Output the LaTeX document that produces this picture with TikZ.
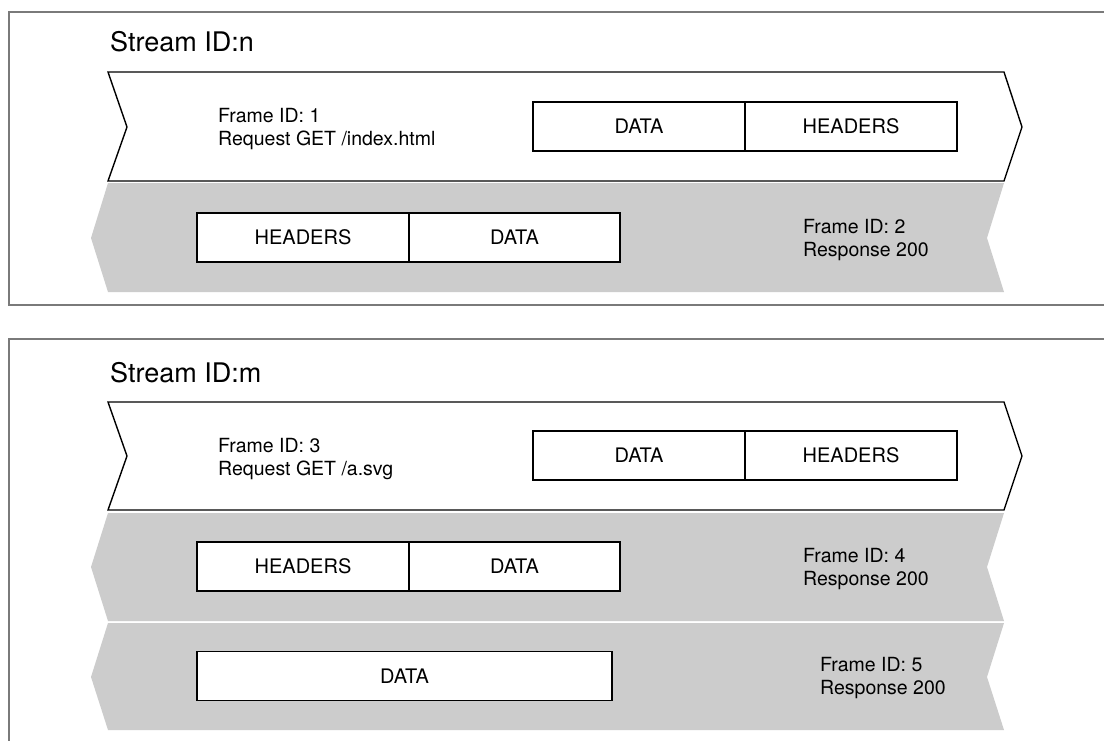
\documentclass[tikz,border=0pt]{standalone}
\usepackage{fontspec}
\setmainfont{TeX Gyre Heros}
\definecolor{arrowgray}{HTML}{CCCCCC}
\definecolor{framegray}{HTML}{7A7A7A}
\tikzset{
  outerbox/.style={draw=framegray, line width=1.4pt, fill=white},
  fwdarrow/.style={draw=black, line width=1.4pt, fill=white, line join=miter},
  backarrow/.style={fill=arrowgray, draw=none},
  framebox/.style={draw=black, line width=1.3pt, fill=white, inner sep=0pt,
    minimum height=49pt, font=\fontsize{20}{22}\selectfont},
  lbl/.style={inner sep=0pt, anchor=base west, align=left,
    font=\fontsize{19.5}{22.5}\selectfont},
  streamlbl/.style={inner sep=0pt, anchor=base west,
    font=\fontsize{27}{32}\selectfont},
}
\begin{document}
\begin{tikzpicture}[x=1pt,y=-1pt]
\clip (0,0) rectangle (1104,740);
\fill[white] (0,0) rectangle (1104,740);

% ---------------- Stream n ----------------
\draw[outerbox] (9,12) rectangle (1120,305);
\node[streamlbl] (sn) at (110,51) {Stream ID:n};

\draw[fwdarrow] (108,72) -- (1004,72) -- (1022,127) -- (1004,181) -- (108,181) -- (127,127) -- cycle;
\node[lbl] (f1) at (218,145) {Frame ID: 1\\Request GET /index.html};
\node[framebox, minimum width=212pt] (d1) at (639,126.5) {DATA};
\node[framebox, minimum width=212pt] (h1) at (851,126.5) {HEADERS};

\fill[backarrow] (108,183) -- (1004,183) -- (987,238) -- (1004,292) -- (108,292) -- (91,238) -- cycle;
\node[framebox, minimum width=212pt] (h2) at (303,237.5) {HEADERS};
\node[framebox, minimum width=211pt] (d2) at (514.5,237.5) {DATA};
\node[lbl] (f2) at (803,256) {Frame ID: 2\\Response 200};

% ---------------- Stream m ----------------
\draw[outerbox] (9,339) rectangle (1120,780);
\node[streamlbl] (sm) at (110,382) {Stream ID:m};

\draw[fwdarrow] (108,402) -- (1004,402) -- (1022,456) -- (1004,510) -- (108,510) -- (127,456) -- cycle;
\node[lbl] (f3) at (218,475) {Frame ID: 3\\Request GET /a.svg};
\node[framebox, minimum width=212pt] (d3) at (639,455.5) {DATA};
\node[framebox, minimum width=212pt] (h3) at (851,455.5) {HEADERS};

\fill[backarrow] (108,513) -- (1004,513) -- (987,567) -- (1004,621) -- (108,621) -- (91,567) -- cycle;
\node[framebox, minimum width=212pt] (h4) at (303,566.5) {HEADERS};
\node[framebox, minimum width=211pt] (d4) at (514.5,566.5) {DATA};
\node[lbl] (f4) at (803,585) {Frame ID: 4\\Response 200};

\fill[backarrow] (108,623) -- (1004,623) -- (987,677) -- (1004,730) -- (108,730) -- (91,677) -- cycle;
\node[framebox, minimum width=415pt] (d5) at (404.5,676) {DATA};
\node[lbl] (f5) at (820,694) {Frame ID: 5\\Response 200};
\end{tikzpicture}
\end{document}
